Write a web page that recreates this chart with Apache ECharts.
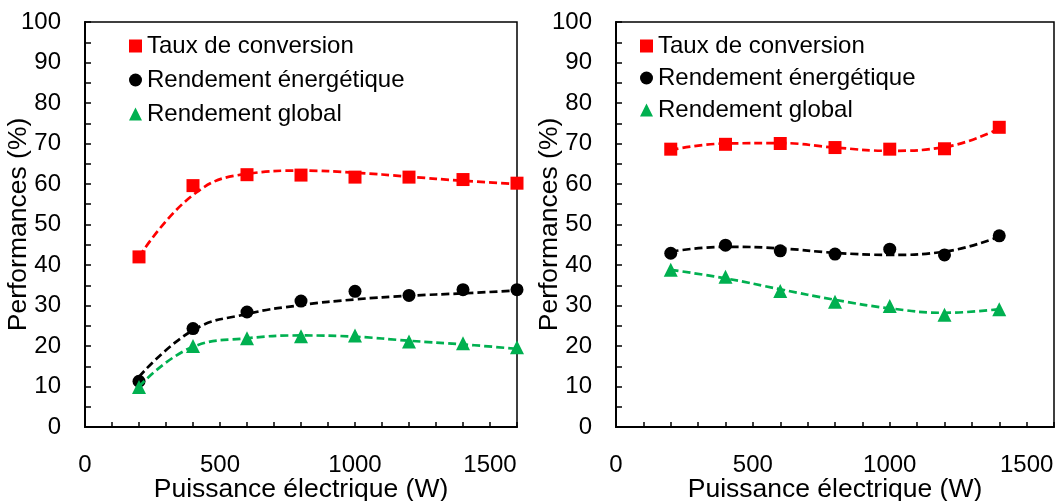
<!DOCTYPE html>
<html>
<head>
<meta charset="utf-8">
<script src="https://cdn.jsdelivr.net/npm/echarts@6/dist/echarts.min.js"></script>
<style>
html,body{margin:0;padding:0;background:#fff;}
#chart{width:1059px;height:501px;}
</style>
</head>
<body>
<div id="chart"></div>
<script>
// ---- Data ----
const seriesNames = ['Taux de conversion', 'Rendement énergétique', 'Rendement global'];
const xTitle = 'Puissance électrique (W)';
const yTitle = 'Performances (%)';

const leftPower = [200, 400, 600, 800, 1000, 1200, 1400, 1600];
const leftTaux = [42.0, 59.6, 62.3, 62.2, 61.7, 61.7, 61.1, 60.2];
const leftEnergetique = [11.3, 24.3, 28.4, 31.1, 33.5, 32.5, 33.9, 33.9];
const leftGlobal = [9.9, 20.0, 21.9, 22.4, 22.6, 21.1, 20.7, 19.7];
const leftTauxTrend = [42.0, 57.3, 62.5, 63.3, 62.8, 61.8, 60.8, 60.0];
const leftEnergetiqueTrend = [12.4, 23.9, 27.9, 30.1, 31.5, 32.4, 33.0, 33.7];
const leftGlobalTrend = [10.0, 19.8, 21.9, 22.6, 22.3, 21.3, 20.4, 19.3];

const rightPower = [200, 400, 600, 800, 1000, 1200, 1400];
const rightTaux = [68.6, 69.8, 70.0, 69.0, 68.6, 68.7, 74.0];
const rightEnergetique = [42.9, 44.9, 43.5, 42.7, 43.9, 42.5, 47.2];
const rightGlobal = [38.8, 37.1, 33.6, 30.9, 29.9, 27.7, 29.1];
const rightTauxTrend = [68.4, 70.0, 70.1, 69.0, 68.2, 69.1, 73.7];
const rightEnergetiqueTrend = [43.3, 44.5, 44.1, 43.0, 42.5, 43.3, 47.0];
const rightGlobalTrend = [38.8, 36.7, 34.0, 31.4, 29.3, 28.2, 29.1];

const xTicks = [0, 500, 1000, 1500];
const yTicks = [0, 10, 20, 30, 40, 50, 60, 70, 80, 90, 100];

// ---- Styles ----
const FONT = 'Liberation Sans';
const colors = ['#FF0000', '#000000', '#00B050'];
const symbols = ['rect', 'circle', 'triangle'];
const symbolSizes = [13, 13, 14];

function pairs(xs, ys) { return xs.map((x, i) => [x, ys[i]]); }

function xAxisCfg(gi) {
  return {
    type: 'value', gridIndex: gi, min: 0, max: 1600, interval: 100,
    name: xTitle, nameLocation: 'middle', nameGap: 49, nameMoveOverlap: false,
    nameTextStyle: { fontFamily: FONT, fontSize: 26.5, color: '#000' },
    axisLine: { show: true, onZero: false, lineStyle: { color: '#000', width: 2 } },
    axisTick: { show: true, inside: true, length: 5, lineStyle: { color: '#000', width: 1.5 } },
    axisLabel: {
      fontFamily: FONT, fontSize: 24, color: '#000', margin: 26, hideOverlap: false,
      showMinLabel: true, showMaxLabel: true,
      formatter: v => xTicks.includes(v) ? String(v) : ''
    },
    splitLine: { show: false }
  };
}
function yAxisCfg(gi) {
  return {
    type: 'value', gridIndex: gi, min: 0, max: 100, interval: 5,
    name: yTitle, nameLocation: 'middle', nameGap: 53, nameMoveOverlap: false,
    nameTextStyle: { fontFamily: FONT, fontSize: 26.5, color: '#000' },
    axisLine: { show: true, lineStyle: { color: '#000', width: 2 } },
    axisTick: { show: true, inside: true, length: 6, lineStyle: { color: '#000', width: 1.5 } },
    axisLabel: {
      fontFamily: FONT, fontSize: 24, color: '#000', margin: 24, hideOverlap: false,
      showMinLabel: true, showMaxLabel: true,
      formatter: v => yTicks.includes(v) ? String(v) : ''
    },
    splitLine: { show: false }
  };
}

function panelSeries(gi, xs, pts, trends) {
  const out = [];
  for (let k = 0; k < 3; k++) {
    out.push({
      name: seriesNames[k] + ' (tendance)', type: 'line', xAxisIndex: gi, yAxisIndex: gi,
      data: pairs(xs, trends[k]), smooth: 0.45, showSymbol: false, symbol: 'none',
      lineStyle: { color: colors[k], width: 2.7, type: [8, 4] }, z: 3, silent: true
    });
    out.push({
      name: seriesNames[k], type: 'scatter', xAxisIndex: gi, yAxisIndex: gi,
      data: pairs(xs, pts[k]), symbol: symbols[k], symbolSize: symbolSizes[k],
      itemStyle: { color: colors[k], opacity: 1 }, z: 2
    });
  }
  return out;
}

function legendCfg(left, gap) {
  return {
    left: left, top: 29, orient: 'vertical', itemGap: gap,
    itemWidth: 13, itemHeight: 13,
    textStyle: { fontFamily: FONT, fontSize: 24, color: '#000', lineHeight: 24 },
    data: seriesNames.map((n, i) => ({ name: n, icon: symbols[i] })),
    selectedMode: false
  };
}

function gridCfg(left, width) {
  return {
    left: left, top: 22, width: width, height: 405,
    containLabel: false, outerBoundsMode: 'none',
    show: true, borderColor: '#000', borderWidth: 1.5, backgroundColor: 'transparent'
  };
}

const chart = echarts.init(document.getElementById('chart'), null, { renderer: 'canvas' });
chart.setOption({
  animation: false,
  backgroundColor: '#fff',
  grid: [gridCfg(85, 432), gridCfg(616, 438)],
  legend: [legendCfg(124, 10), legendCfg(635, 8)],
  xAxis: [xAxisCfg(0), xAxisCfg(1)],
  yAxis: [yAxisCfg(0), yAxisCfg(1)],
  series: [
    ...panelSeries(0, leftPower, [leftTaux, leftEnergetique, leftGlobal],
      [leftTauxTrend, leftEnergetiqueTrend, leftGlobalTrend]),
    ...panelSeries(1, rightPower, [rightTaux, rightEnergetique, rightGlobal],
      [rightTauxTrend, rightEnergetiqueTrend, rightGlobalTrend])
  ]
});
</script>
</body>
</html>
